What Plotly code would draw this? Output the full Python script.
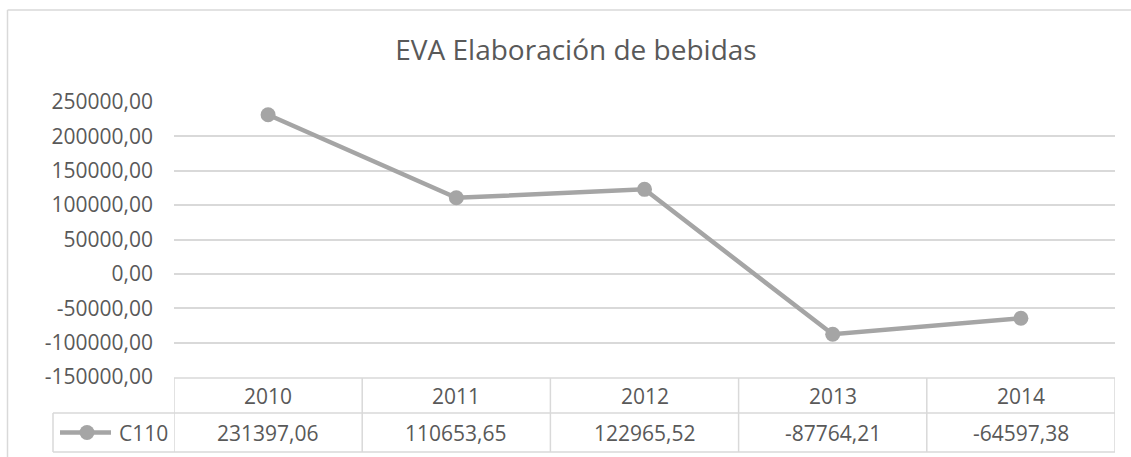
import plotly.graph_objects as go

# ---- data ----
years = ["2010", "2011", "2012", "2013", "2014"]
series_name = "C110"
values = [231397.06, 110653.65, 122965.52, -87764.21, -64597.38]
y_ticks = [250000, 200000, 150000, 100000, 50000, 0, -50000, -100000, -150000]
title_text = "EVA Elaboración de bebidas"


def fmt(v):
    return f"{v:.2f}".replace(".", ",")


W, H = 1131, 457
L, R, T, B = 174, 1115, 102, 377
GRID = "#d9d9d9"
TXT = "#595959"
LINE = "#a5a5a5"
FONT = "Open Sans"


def px(xpix):
    return (xpix - L) / (R - L)


def py(ypix):
    return (B - ypix) / (B - T)


fig = go.Figure()
fig.add_trace(go.Scatter(
    x=years, y=values, mode="lines+markers", name=series_name,
    line=dict(color=LINE, width=4.5),
    marker=dict(color=LINE, size=15),
    showlegend=False, cliponaxis=False,
))

shapes = []
# outer chart frame (left and top edges visible)
shapes.append(dict(type="line", xref="paper", yref="paper", x0=px(7.5), x1=px(7.5),
                   y0=py(10), y1=py(470), line=dict(color=GRID, width=1.5)))
shapes.append(dict(type="line", xref="paper", yref="paper", x0=px(7.5), x1=px(1140),
                   y0=py(10), y1=py(10), line=dict(color=GRID, width=1.5)))

# data table
row1_top, row1_bot, row2_bot = 378, 413, 452
n = len(years)
shapes.append(dict(type="line", xref="x", yref="paper", x0=-0.5, x1=n - 0.5,
                   y0=py(row1_top), y1=py(row1_top), line=dict(color=GRID, width=1.5)))
for yy in (row1_bot, row2_bot):
    shapes.append(dict(type="line", xref="paper", yref="paper", x0=px(53), x1=1,
                       y0=py(yy), y1=py(yy), line=dict(color=GRID, width=1.5)))
for i in range(n + 1):
    shapes.append(dict(type="line", xref="x", yref="paper", x0=i - 0.5, x1=i - 0.5,
                       y0=py(row1_top), y1=py(row2_bot), line=dict(color=GRID, width=1.5)))
shapes.append(dict(type="line", xref="paper", yref="paper", x0=px(53), x1=px(53),
                   y0=py(row1_bot), y1=py(row2_bot), line=dict(color=GRID, width=1.5)))
# legend key in table
ky = (row1_bot + row2_bot) / 2
shapes.append(dict(type="line", xref="paper", yref="paper", x0=px(60), x1=px(111),
                   y0=py(ky), y1=py(ky), line=dict(color=LINE, width=4.5)))
r = 7.5
shapes.append(dict(type="circle", xref="paper", yref="paper", x0=px(87 - r), x1=px(87 + r),
                   y0=py(ky + r), y1=py(ky - r), fillcolor=LINE, line=dict(width=0)))

annotations = []
for i, (yr, v) in enumerate(zip(years, values)):
    annotations.append(dict(x=i, y=py((row1_top + row1_bot) / 2), xref="x", yref="paper",
                            text=yr, showarrow=False, xanchor="center", yanchor="middle",
                            font=dict(family=FONT, size=21, color=TXT)))
    annotations.append(dict(x=i, y=py(ky), xref="x", yref="paper",
                            text=fmt(v), showarrow=False, xanchor="center", yanchor="middle",
                            font=dict(family=FONT, size=21, color=TXT)))
annotations.append(dict(x=px(117), y=py(ky), xref="paper", yref="paper", text=series_name,
                        showarrow=False, xanchor="left", yanchor="middle",
                        font=dict(family=FONT, size=21, color=TXT)))

fig.update_layout(
    width=W, height=H,
    margin=dict(l=L, r=W - R, t=T, b=H - B),
    paper_bgcolor="white", plot_bgcolor="white",
    title=dict(text=title_text, xref="container", yref="container", x=576 / W,
               y=1 - 50 / H, xanchor="center", yanchor="middle",
               font=dict(family=FONT, size=28, color=TXT)),
    shapes=shapes, annotations=annotations,
    xaxis=dict(type="category", range=[-0.5, n - 0.5], showticklabels=False,
               showgrid=False, zeroline=False, showline=False),
    yaxis=dict(range=[-150000, 250000], tickvals=y_ticks, ticktext=[fmt(t) for t in y_ticks],
               showgrid=True, gridcolor=GRID, gridwidth=1.5, zeroline=True,
               zerolinecolor=GRID, zerolinewidth=1.5, showline=False, ticks="",
               ticklabelstandoff=20,
               tickfont=dict(family=FONT, size=21, color=TXT)),
    showlegend=False,
)

fig.write_html("out.html", config={"displayModeBar": False},
               post_script="document.body.style.margin='0';")
